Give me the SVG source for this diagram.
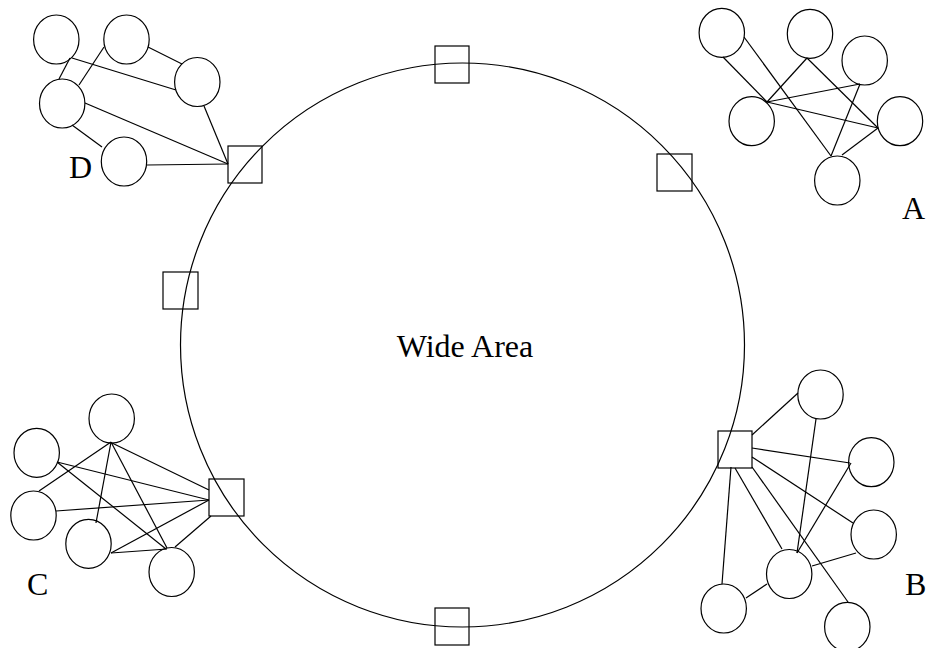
<svg xmlns="http://www.w3.org/2000/svg" width="927" height="648" viewBox="0 0 927 648">
  <style>
    .ln { stroke: #000; stroke-width: 1.2; fill: none; }
    .host { stroke: #000; stroke-width: 1.2; fill: none; }
    .gw { stroke: #000; stroke-width: 1.2; fill: none; }
    .lbl { font-family: "Liberation Serif", "Times New Roman", serif; font-size: 32px; fill: #000; }
  </style>
  <rect width="927" height="648" fill="#fff"/>

  <!-- wide-area ring -->
  <g id="wan">
    <circle class="ln" cx="462.5" cy="345" r="282"/>
    <text class="lbl" x="465" y="357" text-anchor="middle">Wide Area</text>
  </g>

  <!-- connectors -->
  <g id="connectors" class="ln">
    <!-- cluster D -->
    <line x1="70" y1="58" x2="59" y2="79"/>
    <line x1="72" y1="58" x2="176" y2="90"/>
    <line x1="104" y1="47" x2="79" y2="85"/>
    <line x1="148" y1="47" x2="182" y2="64"/>
    <line x1="85" y1="103" x2="228" y2="164"/>
    <line x1="204" y1="106" x2="228" y2="164"/>
    <line x1="72" y1="125" x2="102" y2="147"/>
    <line x1="147" y1="165" x2="228" y2="164"/>
    <!-- cluster A -->
    <line x1="723" y1="57" x2="767" y2="102"/>
    <line x1="744" y1="37" x2="831" y2="156"/>
    <line x1="807" y1="58" x2="767" y2="102"/>
    <line x1="807" y1="58" x2="878" y2="128"/>
    <line x1="767" y1="102" x2="860" y2="84"/>
    <line x1="767" y1="102" x2="878" y2="128"/>
    <line x1="860" y1="84" x2="831" y2="156"/>
    <line x1="842" y1="155" x2="878" y2="128"/>
    <!-- cluster C -->
    <line x1="111" y1="442" x2="39" y2="491"/>
    <line x1="112" y1="443" x2="209" y2="490"/>
    <line x1="111" y1="442" x2="96" y2="523"/>
    <line x1="111" y1="442" x2="167" y2="548"/>
    <line x1="57" y1="462" x2="209" y2="500"/>
    <line x1="57" y1="462" x2="166" y2="549"/>
    <line x1="56" y1="511" x2="209" y2="500"/>
    <line x1="111" y1="553" x2="209" y2="500"/>
    <line x1="111" y1="553" x2="167" y2="549"/>
    <line x1="175" y1="547" x2="211" y2="516"/>
    <!-- cluster B -->
    <line x1="752" y1="435" x2="798" y2="393"/>
    <line x1="752" y1="448" x2="850" y2="463"/>
    <line x1="752" y1="457" x2="853" y2="523"/>
    <line x1="752" y1="467" x2="848" y2="602"/>
    <line x1="731" y1="467" x2="722" y2="584"/>
    <line x1="735" y1="468" x2="782" y2="549"/>
    <line x1="816" y1="419" x2="797" y2="553"/>
    <line x1="851" y1="463" x2="797" y2="553"/>
    <line x1="856" y1="553" x2="812" y2="566"/>
    <line x1="746" y1="598" x2="767" y2="584"/>
  </g>

  <!-- gateways on the ring -->
  <g id="gw-top"><rect class="gw" x="435" y="46" width="34" height="37"/></g>
  <g id="gw-right"><rect class="gw" x="657" y="154" width="35" height="37"/></g>
  <g id="gw-left"><rect class="gw" x="163" y="272" width="35" height="37"/></g>
  <g id="gw-bottom"><rect class="gw" x="435" y="608" width="34" height="37"/></g>
  <g id="gw-D"><rect class="gw" x="228" y="146" width="34" height="37"/></g>
  <g id="gw-C"><rect class="gw" x="209" y="479" width="35" height="37"/></g>
  <g id="gw-B"><rect class="gw" x="718" y="431" width="34" height="37"/></g>

  <!-- cluster D hosts -->
  <g id="D1"><ellipse class="host" cx="56.3" cy="39.5" rx="22.7" ry="24.5"/></g>
  <g id="D2"><ellipse class="host" cx="126.5" cy="39.5" rx="22.7" ry="24.5"/></g>
  <g id="D3"><ellipse class="host" cx="197.3" cy="82" rx="22.7" ry="24.5"/></g>
  <g id="D4"><ellipse class="host" cx="62.2" cy="103.5" rx="22.7" ry="24.5"/></g>
  <g id="D5"><ellipse class="host" cx="124" cy="161.5" rx="22.7" ry="24.5"/></g>
  <g id="label-D"><text class="lbl" x="69" y="178">D</text></g>

  <!-- cluster A hosts -->
  <g id="A1"><ellipse class="host" cx="721.8" cy="32.8" rx="22.7" ry="24.5"/></g>
  <g id="A2"><ellipse class="host" cx="810" cy="33.8" rx="22.7" ry="24.5"/></g>
  <g id="A3"><ellipse class="host" cx="864.7" cy="60.5" rx="22.7" ry="24.5"/></g>
  <g id="A4"><ellipse class="host" cx="751.7" cy="121.2" rx="22.7" ry="24.5"/></g>
  <g id="A5"><ellipse class="host" cx="900" cy="121.2" rx="22.7" ry="24.5"/></g>
  <g id="A6"><ellipse class="host" cx="837.3" cy="180.5" rx="22.7" ry="24.5"/></g>
  <g id="label-A"><text class="lbl" x="902" y="219">A</text></g>

  <!-- cluster C hosts -->
  <g id="C1"><ellipse class="host" cx="36.7" cy="452.8" rx="22.7" ry="24.5"/></g>
  <g id="C2"><ellipse class="host" cx="111.7" cy="418.5" rx="22.7" ry="24.5"/></g>
  <g id="C3"><ellipse class="host" cx="33.5" cy="515.5" rx="22.7" ry="24.5"/></g>
  <g id="C4"><ellipse class="host" cx="88.5" cy="543.8" rx="22.7" ry="24.5"/></g>
  <g id="C5"><ellipse class="host" cx="171.7" cy="572" rx="22.7" ry="24.5"/></g>
  <g id="label-C"><text class="lbl" x="27" y="595">C</text></g>

  <!-- cluster B hosts -->
  <g id="B1"><ellipse class="host" cx="820.5" cy="394.5" rx="22.7" ry="24.5"/></g>
  <g id="B2"><ellipse class="host" cx="871.3" cy="462.2" rx="22.7" ry="24.5"/></g>
  <g id="B3"><ellipse class="host" cx="873.7" cy="534.5" rx="22.7" ry="24.5"/></g>
  <g id="B4"><ellipse class="host" cx="789.2" cy="574" rx="22.7" ry="24.5"/></g>
  <g id="B5"><ellipse class="host" cx="723.7" cy="608.5" rx="22.7" ry="24.5"/></g>
  <g id="B6"><ellipse class="host" cx="847.3" cy="626.8" rx="22.7" ry="24.5"/></g>
  <g id="label-B"><text class="lbl" x="905" y="595">B</text></g>
</svg>
